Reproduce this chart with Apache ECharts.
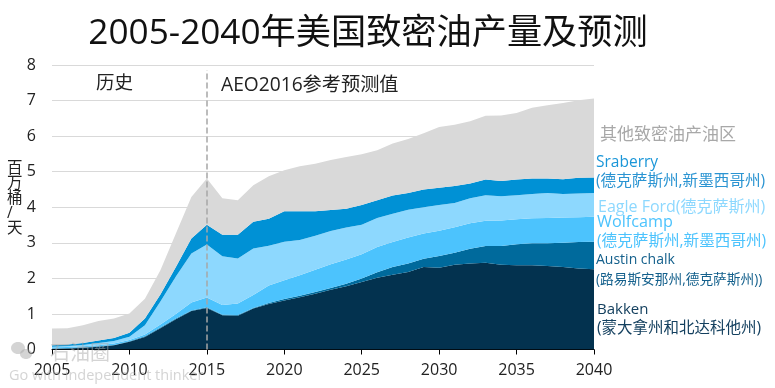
<!DOCTYPE html>
<html>
<head>
<meta charset="utf-8">
<style>
  html, body { margin: 0; padding: 0; background: #fff; }
  #chart { width: 775px; height: 388px; }
</style>
<script src="https://cdn.jsdelivr.net/npm/echarts@6/dist/echarts.min.js"></script>
</head>
<body>
<div id="chart"></div>
<script>
// 2005-2040, one category per year
const years = [];
for (let y = 2005; y <= 2040; y++) years.push(String(y));

// 各产区产量（百万桶/天），从图上估读，堆叠顺序由下到上
const bakken = [0.02,0.03,0.05,0.08,0.12,0.22,0.35,0.6,0.85,1.08,1.17,0.96,0.95,1.15,1.28,1.38,1.47,1.57,1.68,1.78,1.9,2.02,2.1,2.18,2.32,2.3,2.38,2.42,2.44,2.38,2.37,2.37,2.35,2.32,2.28,2.26];
const austinChalk = [0.01,0.01,0.01,0.01,0.01,0.01,0.02,0.02,0.02,0.02,0.02,0.02,0.02,0.02,0.03,0.04,0.04,0.05,0.05,0.07,0.1,0.15,0.22,0.24,0.23,0.33,0.34,0.41,0.47,0.53,0.59,0.62,0.64,0.68,0.74,0.77];
const wolfcamp = [0.03,0.03,0.03,0.03,0.04,0.04,0.05,0.08,0.13,0.22,0.27,0.27,0.32,0.36,0.49,0.53,0.58,0.62,0.67,0.68,0.68,0.71,0.7,0.73,0.71,0.71,0.72,0.72,0.71,0.72,0.7,0.7,0.71,0.71,0.7,0.7];
const eagleFord = [0.02,0.03,0.04,0.06,0.07,0.09,0.26,0.65,1.05,1.38,1.49,1.37,1.27,1.31,1.12,1.08,0.99,0.96,0.93,0.9,0.83,0.82,0.8,0.78,0.74,0.72,0.68,0.7,0.72,0.68,0.68,0.68,0.7,0.66,0.67,0.67];
const sraberry = [0.04,0.04,0.05,0.07,0.08,0.11,0.19,0.2,0.27,0.42,0.56,0.61,0.67,0.75,0.76,0.86,0.81,0.69,0.59,0.53,0.55,0.5,0.51,0.47,0.5,0.49,0.48,0.42,0.44,0.43,0.44,0.44,0.41,0.42,0.44,0.44];
const others = [0.47,0.46,0.5,0.55,0.55,0.54,0.56,0.68,0.94,1.17,1.3,1.02,0.97,1.03,1.19,1.15,1.26,1.33,1.41,1.45,1.43,1.4,1.46,1.52,1.58,1.71,1.72,1.75,1.79,1.84,1.87,1.99,2.06,2.14,2.18,2.22];

const seriesNames = ["Bakken", "Austin chalk", "Wolfcamp", "Eagle Ford", "Sraberry", "其他致密油产油区"];
const seriesValues = [bakken, austinChalk, wolfcamp, eagleFord, sraberry, others];
const seriesColors = ["#03324f", "#006a9c", "#4cc3fd", "#8dd8fe", "#0091d5", "#d9d9d9"];

const FONT = '"Open Sans", "Noto Sans CJK SC", sans-serif';
const MARK = "rgba(170,170,170,0.5)";

const text = (x, y, str, fill, fontSize, extra) => ({
  type: "text",
  x, y,
  silent: true,
  z: 10,
  style: Object.assign({ text: str, fill, fontSize, fontFamily: FONT, textVerticalAlign: "middle" }, extra)
});

const option = {
  animation: false,
  title: {
    text: "2005-2040年美国致密油产量及预测",
    left: 363,
    top: 11,
    textAlign: "center",
    textStyle: { color: "#111", fontSize: 35.2, fontWeight: "normal", fontFamily: FONT }
  },
  grid: { left: 52, right: 181, top: 65, bottom: 38.5 },
  xAxis: {
    type: "category",
    data: years,
    boundaryGap: false,
    axisLine: { lineStyle: { color: "#000", width: 1 } },
    axisTick: { interval: 4, length: 5, lineStyle: { color: "#000" } },
    axisLabel: { interval: 4, color: "#222", fontSize: 16, margin: 13, fontFamily: FONT, hideOverlap: false },
    splitLine: { show: false }
  },
  yAxis: {
    type: "value",
    min: 0,
    max: 8,
    interval: 1,
    axisLine: { show: false },
    axisTick: { show: false },
    axisLabel: { color: "#222", fontSize: 16, margin: 16, fontFamily: FONT },
    splitLine: { lineStyle: { color: "#d9d9d9", width: 1 } }
  },
  series: seriesNames.map((name, i) => ({
    name,
    type: "line",
    stack: "total",
    data: seriesValues[i],
    symbol: "none",
    z: 2,
    lineStyle: { width: 0 },
    areaStyle: { color: seriesColors[i], opacity: 1 },
    // 2015 历史/预测分界线
    markLine: i === 5 ? {
      silent: true,
      symbol: "none",
      label: { show: false },
      lineStyle: { color: "#a6a6a6", type: "dashed", width: 1.5 },
      data: [[{ coord: ["2015", 0] }, { coord: ["2015", 7.85] }]]
    } : undefined
  })),
  graphic: [
    text(96, 84, "历史", "#222", 18.5),
    text(221, 86, "AEO2016参考预测值", "#222", 19.2),
    text(7, 199, "百\n万\n桶\n/\n天", "#222", 15.5, { lineHeight: 15 }),
    text(600, 135, "其他致密油产油区", "#a8a8a8", 17),
    text(596, 163, "Sraberry", "#1a96d8", 15.5),
    text(596, 182, "(德克萨斯州,新墨西哥州)", "#2a94d2", 15.6),
    text(598, 207, "Eagle Ford(德克萨斯州)", "#8dd8fe", 16),
    text(597, 222, "Wolfcamp", "#4cc3fd", 16.2),
    text(597, 242, "(德克萨斯州,新墨西哥州)", "#4cc3fd", 15.6),
    text(596, 260, "Austin chalk", "#14608c", 14),
    text(596, 280, "(路易斯安那州,德克萨斯州))", "#14608c", 13.7),
    text(597, 310, "Bakken", "#14405f", 15),
    text(597, 329, "(蒙大拿州和北达科他州)", "#14405f", 15.5),
    // 水印
    { type: "ellipse", silent: true, z: 10, shape: { cx: 18, cy: 348, rx: 7, ry: 6 }, style: { fill: MARK } },
    { type: "ellipse", silent: true, z: 10, shape: { cx: 26, cy: 354, rx: 6, ry: 5 }, style: { fill: MARK } },
    text(50, 354, "石油圈", MARK, 20),
    text(9, 376, "Go with independent thinker", MARK, 14.5)
  ]
};

const chart = echarts.init(document.getElementById("chart"));
chart.setOption(option);
</script>
</body>
</html>
